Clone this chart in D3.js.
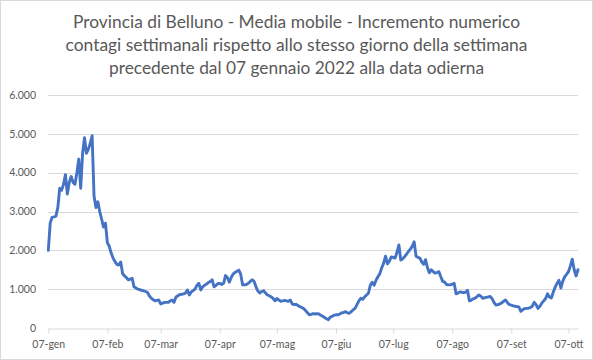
<!DOCTYPE html>
<html><head><meta charset="utf-8">
<script src="https://cdn.jsdelivr.net/npm/d3@7"></script>
<style>body{margin:0;background:#fff}svg{display:block}</style>
</head><body><svg id="c" width="593" height="360"></svg>
<script>
const titleLines = [
  "Provincia di Belluno - Media mobile - Incremento numerico",
  "contagi settimanali rispetto allo stesso giorno della settimana",
  "precedente dal 07 gennaio 2022 alla data odierna"
];
const startDate = [2022, 0, 7];
const values = [
2000,2700,2850,2860,2880,3100,3600,3550,3700,3950,
3450,3750,3900,3750,3700,4000,4350,3600,4500,4900,
4500,4600,4750,4950,3400,3100,3250,3000,2800,2600,
2700,2200,2100,1930,1800,1710,1640,1620,1700,1400,
1340,1300,1240,1260,1280,1060,1030,1000,990,970,
960,940,920,830,770,730,700,710,720,620,
640,660,660,660,700,720,660,800,830,860,
870,880,900,980,850,930,960,1000,1100,1150,
980,1060,1100,1130,1170,1200,1240,1060,1100,1140,
1150,1120,1150,1350,1300,1180,1300,1390,1430,1460,
1490,1380,1110,1110,1120,1150,1200,1240,1200,1060,
950,900,940,960,900,850,830,800,760,700,
760,720,690,700,710,700,690,720,620,600,
610,580,550,530,500,450,390,340,350,370,
360,370,360,330,300,270,240,215,280,300,
330,340,340,360,390,400,420,390,380,420,
470,505,600,700,765,740,800,850,895,1100,
1180,1100,1230,1320,1400,1550,1670,1850,1650,1720,
1830,1820,1800,1950,2140,1750,1780,1840,1900,1970,
2030,2100,2220,1850,1820,1800,1700,1640,1760,1550,
1420,1500,1450,1410,1430,1450,1320,1200,1180,1120,
1110,1110,1130,1150,880,900,930,920,915,920,
970,700,720,750,770,810,850,820,765,780,
790,800,810,750,650,590,600,620,650,690,
720,650,600,590,570,560,550,540,430,470,
500,505,510,525,560,660,600,505,560,640,
700,760,880,800,770,920,1050,1150,1230,1030,
1200,1320,1380,1450,1600,1770,1500,1340,1500
];
const yTicks = [0,1000,2000,3000,4000,5000,6000];
const monthLabels = ["gen","feb","mar","apr","mag","giu","lug","ago","set","ott"];

const svg = d3.select("#c");
const W = 593, H = 360;
const start = new Date(startDate[0], startDate[1], startDate[2]);
const data = values.map((v,i)=>({date:d3.timeDay.offset(start,i), v}));

const x = d3.scaleTime().domain([data[0].date, data[data.length-1].date]).range([48.3, 578]);
const y = d3.scaleLinear().domain([0,6000]).range([328,95]);
const loc = d3.formatLocale({decimal:",",thousands:".",grouping:[3],currency:["€",""]});
const fmt = loc.format(",d");
const font = "Lato, 'Open Sans', sans-serif";

svg.append("rect").attr("x",0.5).attr("y",0.5).attr("width",W-1).attr("height",H-1)
  .attr("fill","#fff").attr("stroke","#d9d9d9");

// title
const tw = [447, 462, 375];
titleLines.forEach((t,i)=>{
  svg.append("text").attr("x",W/2).attr("y",28+i*23).attr("text-anchor","middle")
    .attr("font-family",font).attr("font-size",16.5).attr("fill","#595959")
    .attr("textLength",tw[i]).attr("lengthAdjust","spacingAndGlyphs").text(t);
});

// grid
svg.append("g").selectAll("line").data(yTicks.filter(d=>d>0)).join("line")
  .attr("x1",48).attr("x2",578).attr("y1",d=>Math.round(y(d))+0.5).attr("y2",d=>Math.round(y(d))+0.5)
  .attr("stroke","#d9d9d9").attr("stroke-width",1);

// y labels
svg.append("g").selectAll("text").data(yTicks).join("text")
  .attr("x",36).attr("y",d=>y(d)+3.8).attr("text-anchor","end")
  .attr("font-family",font).attr("font-size",10.5).attr("fill","#595959")
  .text(d=>fmt(d));

// x axis
const xTicks = monthLabels.map((m,i)=>new Date(2022,i,7));
const xAxis = d3.axisBottom(x).tickValues(xTicks).tickSize(5).tickSizeOuter(0)
  .tickFormat(d=>"07-"+monthLabels[d.getMonth()]);
const gx = svg.append("g").attr("transform",`translate(0,${Math.round(y(0))+0.5})`).call(xAxis);
gx.select(".domain").attr("stroke","#d9d9d9");
gx.selectAll(".tick line").attr("stroke","#d9d9d9");
gx.selectAll(".tick text").attr("font-family",font).attr("font-size",10.5).attr("fill","#595959").attr("dy","1.05em");

// line
const line = d3.line().x(d=>x(d.date)).y(d=>y(d.v));
svg.append("path").datum(data).attr("d",line).attr("fill","none")
  .attr("stroke","#4472C4").attr("stroke-width",2.9).attr("stroke-linejoin","round").attr("stroke-linecap","round");
</script>
</body></html>
